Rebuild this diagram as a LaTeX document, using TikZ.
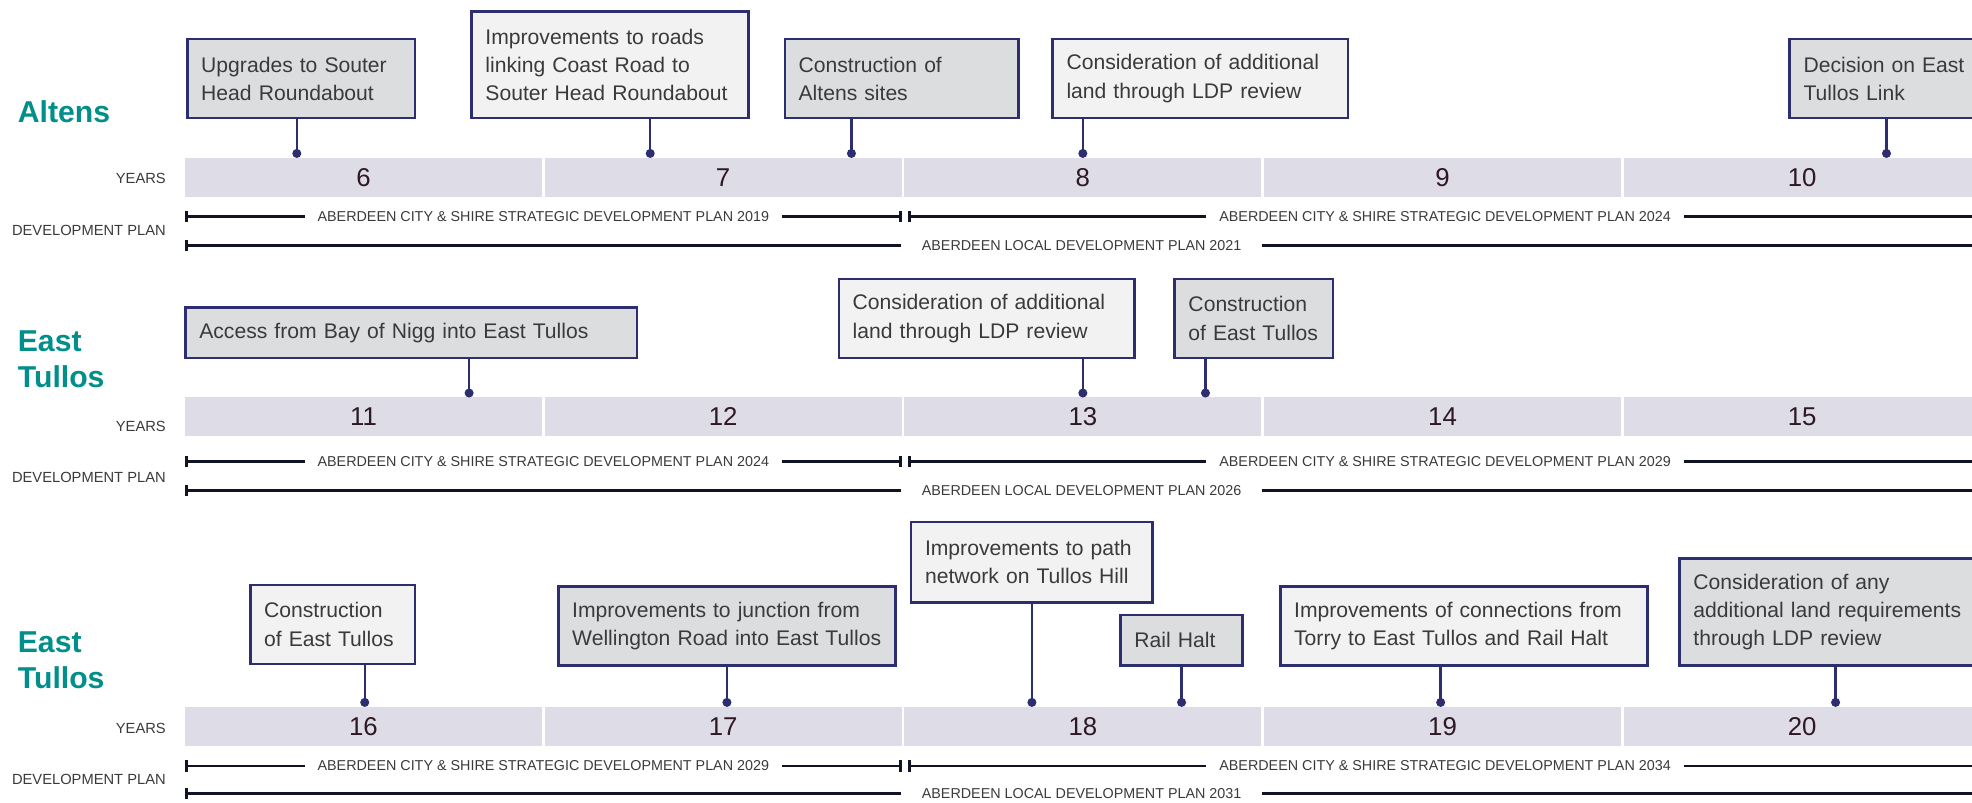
\documentclass[tikz,border=0pt]{standalone}
\usepackage{fontspec}
\setmainfont{Liberation Sans}
\usetikzlibrary{arrows.meta}

\definecolor{tealc}{RGB}{0,143,138}
\definecolor{navyc}{RGB}{44,46,112}
\definecolor{barc}{RGB}{221,220,231}
\definecolor{darkbox}{RGB}{220,221,223}
\definecolor{lightbox}{RGB}{242,242,242}
\definecolor{numc}{RGB}{45,24,36}
\definecolor{txtc}{RGB}{58,58,58}
\definecolor{linec}{RGB}{16,20,36}

\begin{document}
\begin{tikzpicture}[x=1pt, y=-1pt,
    event/.style={draw=navyc, line width=2pt, text=txtc, anchor=north west,
        outer sep=0pt, inner xsep=11pt, inner ysep=0pt, align=left,
        font=\fontsize{16.8}{22.5}\selectfont},
    dark/.style={event, fill=darkbox},
    light/.style={event, fill=lightbox},
    region/.style={anchor=west, inner sep=0pt, align=left, text=tealc,
        font=\fontsize{24}{29}\selectfont\bfseries},
    side/.style={anchor=east, inner sep=0pt, text=txtc, font=\fontsize{11.7}{14}\selectfont},
    yearcell/.style={fill=barc, minimum width=284pt, minimum height=31pt, inner sep=0pt,
        text=numc, font=\fontsize{20.5}{24}\selectfont},
    plan/.style={inner xsep=10pt, inner ysep=0pt, text=txtc, font=\fontsize{11.4}{14}\selectfont},
    planline/.style={draw=linec, line width=2.2pt},
    conn/.style={draw=navyc, line width=1.9pt}]

    \useasboundingbox (0,0) rectangle (1568,638);
    \clip (0,0) rectangle (1568,638);

    \node[region] (altens) at (14,89) {Altens};
    \node[region] (tullosA) at (14,285.5) {East\\Tullos};
    \node[region] (tullosB) at (14,525) {East\\Tullos};

    % year bars and plan periods
    \foreach \bartop/\yrs/\sdpy/\dpy/\ldpy/\first/\sdpA/\sdpB/\ldp in
        {126/142/172/183/195/6/2019/2024/2021,
         316/339/367/380/390/11/2024/2029/2026,
         562/579/609/620/631/16/2029/2034/2031}{
        \foreach \i in {0,...,4}{
            \pgfmathtruncatemacro\yr{\first+\i}
            \node[yearcell] (y\yr) at (289+286*\i,\bartop+15.5) {\yr};
        }
        \node[side] (yl\first) at (132,\yrs) {YEARS};
        \node[side] (dl\first) at (132,\dpy) {DEVELOPMENT PLAN};

        \coordinate (s\first) at (147,\sdpy);
        \coordinate (m\first) at (717,\sdpy);
        \coordinate (k\first) at (722,\sdpy);
        \coordinate (e\first) at (1580,\sdpy);
        \coordinate (l\first) at (147,\ldpy);
        \coordinate (f\first) at (1580,\ldpy);

        \node[plan] (sa\first) at (432,\sdpy) {ABERDEEN CITY \& SHIRE STRATEGIC DEVELOPMENT PLAN \sdpA};
        \node[plan] (sb\first) at (1149,\sdpy) {ABERDEEN CITY \& SHIRE STRATEGIC DEVELOPMENT PLAN \sdpB};
        \node[plan, inner xsep=16pt] (ld\first) at (860,\ldpy) {ABERDEEN LOCAL DEVELOPMENT PLAN \ldp};

        \draw[planline, {Bar[width=9pt]}-] (s\first) -- (sa\first.west);
        \draw[planline, -{Bar[width=9pt]}] (sa\first.east) -- (m\first);
        \draw[planline, {Bar[width=9pt]}-] (k\first) -- (sb\first.west);
        \draw[planline] (sb\first.east) -- (e\first);
        \draw[planline, {Bar[width=9pt]}-] (l\first) -- (ld\first.west);
        \draw[planline] (ld\first.east) -- (f\first);
    }

    % Altens
    \node[dark, minimum height=63pt, text width=159pt] (a1) at (149,31) {Upgrades to Souter\\Head Roundabout};
    \node[light, minimum height=85pt, text width=198pt] (a2) at (375,9) {Improvements to roads\\linking Coast Road to\\Souter Head Roundabout};
    \node[dark, minimum height=63pt, text width=164pt] (a3) at (624,31) {Construction of\\Altens sites};
    \node[light, minimum height=63pt, text width=213pt] (a4) at (837,31) {Consideration of additional\\land through LDP review};
    \node[dark, minimum height=63pt, text width=158pt] (a5) at (1423,31) {Decision on East\\Tullos Link};
    \coordinate (pa1) at (236,122);
    \coordinate (pa2) at (517,122);
    \coordinate (pa3) at (677,122);
    \coordinate (pa4) at (861,122);
    \coordinate (pa5) at (1500,122);

    % East Tullos (11-15)
    \node[dark, minimum height=40pt, text width=337pt] (b1) at (147.5,244.5) {Access from Bay of Nigg into East Tullos};
    \node[light, minimum height=62.5pt, text width=213pt] (b2) at (667,222) {Consideration of additional\\land through LDP review};
    \node[dark, minimum height=62.5pt, text width=104pt] (b3) at (934,222) {Construction\\of East Tullos};
    \coordinate (pb1) at (373,312.5);
    \coordinate (pb2) at (861,312.5);
    \coordinate (pb3) at (958.5,312.5);

    % East Tullos (16-20)
    \node[light, minimum height=63pt, text width=109pt] (c1) at (199,465) {Construction\\of East Tullos};
    \node[dark, minimum height=62.5pt, text width=246pt] (c2) at (444,466.5) {Improvements to junction from\\Wellington Road into East Tullos};
    \node[light, minimum height=64pt, text width=170pt] (c3) at (724.5,415) {Improvements to path\\network on Tullos Hill};
    \node[dark, minimum height=40pt, text width=75pt] (c4) at (891,489) {Rail Halt};
    \node[light, minimum height=62.5pt, text width=270pt] (c5) at (1018,466.5) {Improvements of connections from\\Torry to East Tullos and Rail Halt};
    \node[dark, minimum height=85pt, text width=243pt] (c6) at (1335.5,444) {Consideration of any\\additional land requirements\\through LDP review};
    \coordinate (pc1) at (290,558.5);
    \coordinate (pc2) at (578,558.5);
    \coordinate (pc3) at (820.5,558.5);
    \coordinate (pc4) at (939.5,558.5);
    \coordinate (pc5) at (1145.5,558.5);
    \coordinate (pc6) at (1459.5,558.5);

    \foreach \b/\p in {a1/pa1, a2/pa2, a3/pa3, a4/pa4, a5/pa5, b1/pb1, b2/pb2, b3/pb3,
                       c1/pc1, c2/pc2, c3/pc3, c4/pc4, c5/pc5, c6/pc6}{
        \draw[conn] (\b.south -| \p) -- (\p);
        \fill[navyc] (\p) circle (3.6pt);
    }
\end{tikzpicture}
\end{document}
